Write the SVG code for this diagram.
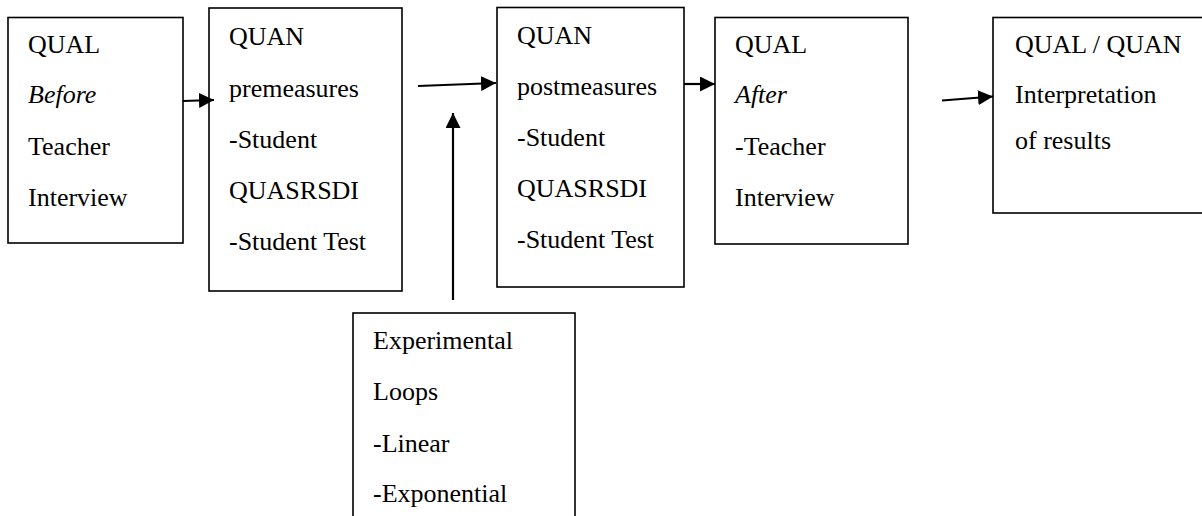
<svg xmlns="http://www.w3.org/2000/svg" width="1202" height="516" viewBox="0 0 1202 516">
<style>
.box{fill:#fff;stroke:#000;stroke-width:1.6}
.t{font-family:"Liberation Serif","Times New Roman",serif;font-size:26px;fill:#000}
.i{font-style:italic}
.c{stroke:#000;stroke-width:2.2;fill:none;marker-end:url(#ah)}
</style>
<defs>
<marker id="ah" markerUnits="userSpaceOnUse" markerWidth="16" markerHeight="15" refX="15" refY="7.5" orient="auto">
<path d="M0,0 L15,7.5 L0,15 Z" fill="#000"/>
</marker>
</defs>
<rect width="1202" height="516" fill="#fff"/>
<g id="n1">
<rect class="box" x="8" y="17.5" width="175" height="225.5"/>
<text class="t" x="28" y="53">QUAL</text>
<text class="t i" x="28" y="103">Before</text>
<text class="t" x="28" y="155">Teacher</text>
<text class="t" x="28" y="206">Interview</text>
</g>
<g id="n2">
<rect class="box" x="209" y="8" width="193" height="283"/>
<text class="t" x="229" y="45">QUAN</text>
<text class="t" x="229" y="96.5">premeasures</text>
<text class="t" x="229" y="148">-Student</text>
<text class="t" x="229" y="199">QUASRSDI</text>
<text class="t" x="229" y="250">-Student Test</text>
</g>
<g id="n3">
<rect class="box" x="497" y="7.5" width="187" height="279.5"/>
<text class="t" x="517" y="43.5">QUAN</text>
<text class="t" x="517" y="94.5">postmeasures</text>
<text class="t" x="517" y="146">-Student</text>
<text class="t" x="517" y="197">QUASRSDI</text>
<text class="t" x="517" y="248">-Student Test</text>
</g>
<g id="n4">
<rect class="box" x="715" y="17.5" width="193" height="226.5"/>
<text class="t" x="735" y="53">QUAL</text>
<text class="t i" x="735" y="103">After</text>
<text class="t" x="735" y="155">-Teacher</text>
<text class="t" x="735" y="206">Interview</text>
</g>
<g id="n5">
<rect class="box" x="993" y="17.5" width="220" height="195.5"/>
<text class="t" x="1015" y="53">QUAL / QUAN</text>
<text class="t" x="1015" y="103">Interpretation</text>
<text class="t" x="1015" y="149">of results</text>
</g>
<g id="n6">
<rect class="box" x="353" y="313" width="222" height="220"/>
<text class="t" x="373" y="349">Experimental</text>
<text class="t" x="373" y="400">Loops</text>
<text class="t" x="373" y="451.5">-Linear</text>
<text class="t" x="373" y="502">-Exponential</text>
</g>
<g id="connectors">
<line class="c" x1="183" y1="101" x2="214" y2="100"/>
<line class="c" x1="418" y1="86" x2="496" y2="83"/>
<line class="c" x1="453" y1="300" x2="453" y2="113"/>
<line class="c" x1="684" y1="84" x2="715" y2="84"/>
<line class="c" x1="942" y1="100.5" x2="993" y2="96.5"/>
</g>
</svg>
